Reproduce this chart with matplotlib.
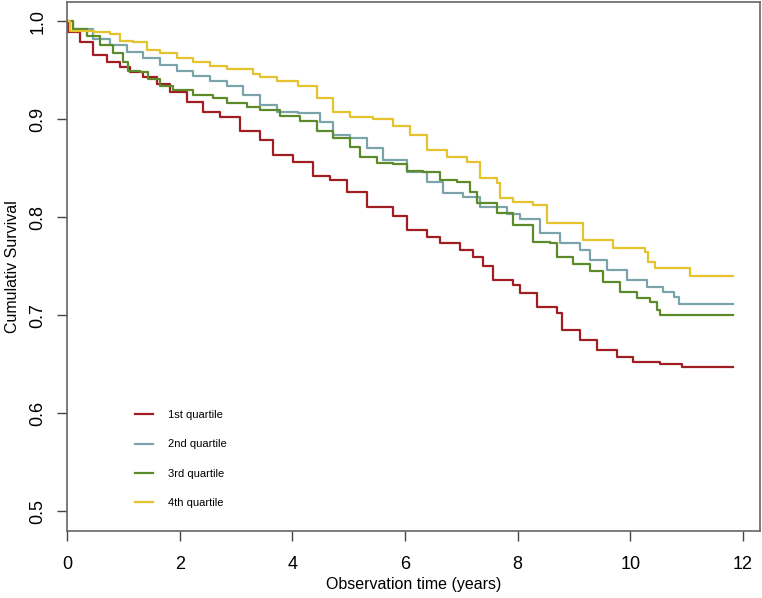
import numpy as np
import matplotlib
matplotlib.use("Agg")
import matplotlib.pyplot as plt

plt.rcParams['font.family'] = ['Liberation Sans', 'DejaVu Sans']

## curvas de sobrevida (tempo em anos, sobrevida acumulada)
red_t = [0, 0.02, 0.23, 0.46, 0.71, 0.94, 1.12, 1.35, 1.6, 1.83, 2.13, 2.42, 2.72, 3.07, 3.43, 3.66,
         4.01, 4.37, 4.67, 4.97, 5.33, 5.79, 6.04, 6.39, 6.63, 6.98, 7.21, 7.39, 7.57, 7.92, 8.05,
         8.35, 8.7, 8.79, 9.11, 9.41, 9.77, 10.05, 10.53, 10.92, 11.83]
red_s = [1.0, 0.989, 0.979, 0.966, 0.959, 0.953, 0.948, 0.943, 0.936, 0.928, 0.918, 0.908, 0.902, 0.888,
         0.879, 0.864, 0.857, 0.842, 0.838, 0.826, 0.811, 0.801, 0.787, 0.78, 0.774, 0.767, 0.76, 0.75,
         0.736, 0.731, 0.723, 0.709, 0.702, 0.685, 0.675, 0.665, 0.658, 0.652, 0.65, 0.647, 0.647]

blue_t = [0, 0.1, 0.46, 0.76, 1.06, 1.35, 1.65, 1.95, 2.24, 2.54, 2.84, 3.13, 3.43, 3.73, 4.1, 4.49,
          4.72, 5.03, 5.33, 5.61, 6.04, 6.39, 6.68, 7.03, 7.34, 7.82, 8.05, 8.4, 8.76, 9.11, 9.29,
          9.59, 9.95, 10.3, 10.59, 10.77, 10.86, 11.83]
blue_s = [1.0, 0.992, 0.982, 0.976, 0.969, 0.963, 0.956, 0.949, 0.944, 0.939, 0.934, 0.925, 0.915,
          0.908, 0.907, 0.897, 0.884, 0.881, 0.871, 0.859, 0.846, 0.836, 0.825, 0.821, 0.811, 0.803,
          0.798, 0.784, 0.774, 0.767, 0.757, 0.746, 0.736, 0.729, 0.724, 0.719, 0.712, 0.712]

green_t = [0, 0.1, 0.35, 0.59, 0.82, 1.0, 1.08, 1.3, 1.44, 1.65, 1.88, 2.24, 2.6, 2.84, 3.2, 3.43,
           3.78, 4.14, 4.44, 4.72, 5.03, 5.2, 5.5, 5.79, 6.04, 6.32, 6.63, 6.93, 7.16, 7.28, 7.64,
           7.92, 8.28, 8.58, 8.7, 8.99, 9.29, 9.52, 9.82, 10.12, 10.36, 10.48, 10.53, 11.83]
green_s = [1.0, 0.992, 0.985, 0.976, 0.968, 0.959, 0.949, 0.948, 0.941, 0.934, 0.930, 0.925, 0.922,
           0.917, 0.913, 0.910, 0.903, 0.898, 0.888, 0.881, 0.872, 0.862, 0.856, 0.854, 0.847, 0.846,
           0.838, 0.836, 0.826, 0.815, 0.805, 0.792, 0.775, 0.774, 0.76, 0.752, 0.745, 0.734, 0.724,
           0.718, 0.714, 0.706, 0.70, 0.70]

yellow_t = [0, 0.05, 0.47, 0.76, 0.94, 1.17, 1.42, 1.65, 1.95, 2.24, 2.54, 2.84, 3.3, 3.43, 3.73,
            4.1, 4.44, 4.72, 5.03, 5.44, 5.79, 6.09, 6.39, 6.75, 7.1, 7.34, 7.64, 7.69, 7.92, 8.28,
            8.53, 9.17, 9.7, 10.27, 10.32, 10.44, 11.07, 11.83]
yellow_s = [1.0, 0.99, 0.989, 0.987, 0.98, 0.979, 0.971, 0.968, 0.963, 0.959, 0.954, 0.951, 0.946,
            0.943, 0.939, 0.934, 0.922, 0.908, 0.902, 0.9, 0.893, 0.884, 0.869, 0.862, 0.857, 0.840,
            0.835, 0.82, 0.816, 0.813, 0.794, 0.777, 0.769, 0.765, 0.755, 0.748, 0.74, 0.74]

labels = ['1st quartile', '2nd quartile', '3rd quartile', '4th quartile']
colors = ['#a01e22', '#7ba4aa', '#5c8b2b', '#e6c22c']

fig = plt.figure(figsize=(7.62, 5.98), dpi=100)
ax = fig.add_axes([0.088, 0.112, 0.909, 0.885])

series = [(red_t, red_s), (blue_t, blue_s), (green_t, green_s), (yellow_t, yellow_s)]
for (t, s), lab, c in zip(series, labels, colors):
    ax.plot(t, s, drawstyle='steps-post', color=c, lw=1.6, label=lab)

ax.set_xlim(0, 12.3)
ax.set_ylim(0.48, 1.02)
ax.set_xticks([0, 2, 4, 6, 8, 10, 12])
ax.set_yticks([0.5, 0.6, 0.7, 0.8, 0.9, 1.0])
ax.set_yticklabels(['0.5', '0.6', '0.7', '0.8', '0.9', '1.0'], rotation=90, va='center')

for sp in ax.spines.values():
    sp.set_color('#666666')
    sp.set_linewidth(1.2)
ax.tick_params(axis='both', length=7, width=1, color='#444444', labelsize=13)
ax.tick_params(axis='x', pad=11)
ax.tick_params(axis='y', pad=8)

ax.set_xlabel('Observation time (years)', fontsize=11.5, labelpad=3)
ax.set_ylabel('Cumulativ Survival', fontsize=11.5, labelpad=7)

leg = ax.legend(loc='lower left', bbox_to_anchor=(0.083, 0.024), frameon=False, fontsize=8,
                handlelength=1.7, handletextpad=1.3, labelspacing=1.75)

fig.savefig('out.png', dpi=100)
